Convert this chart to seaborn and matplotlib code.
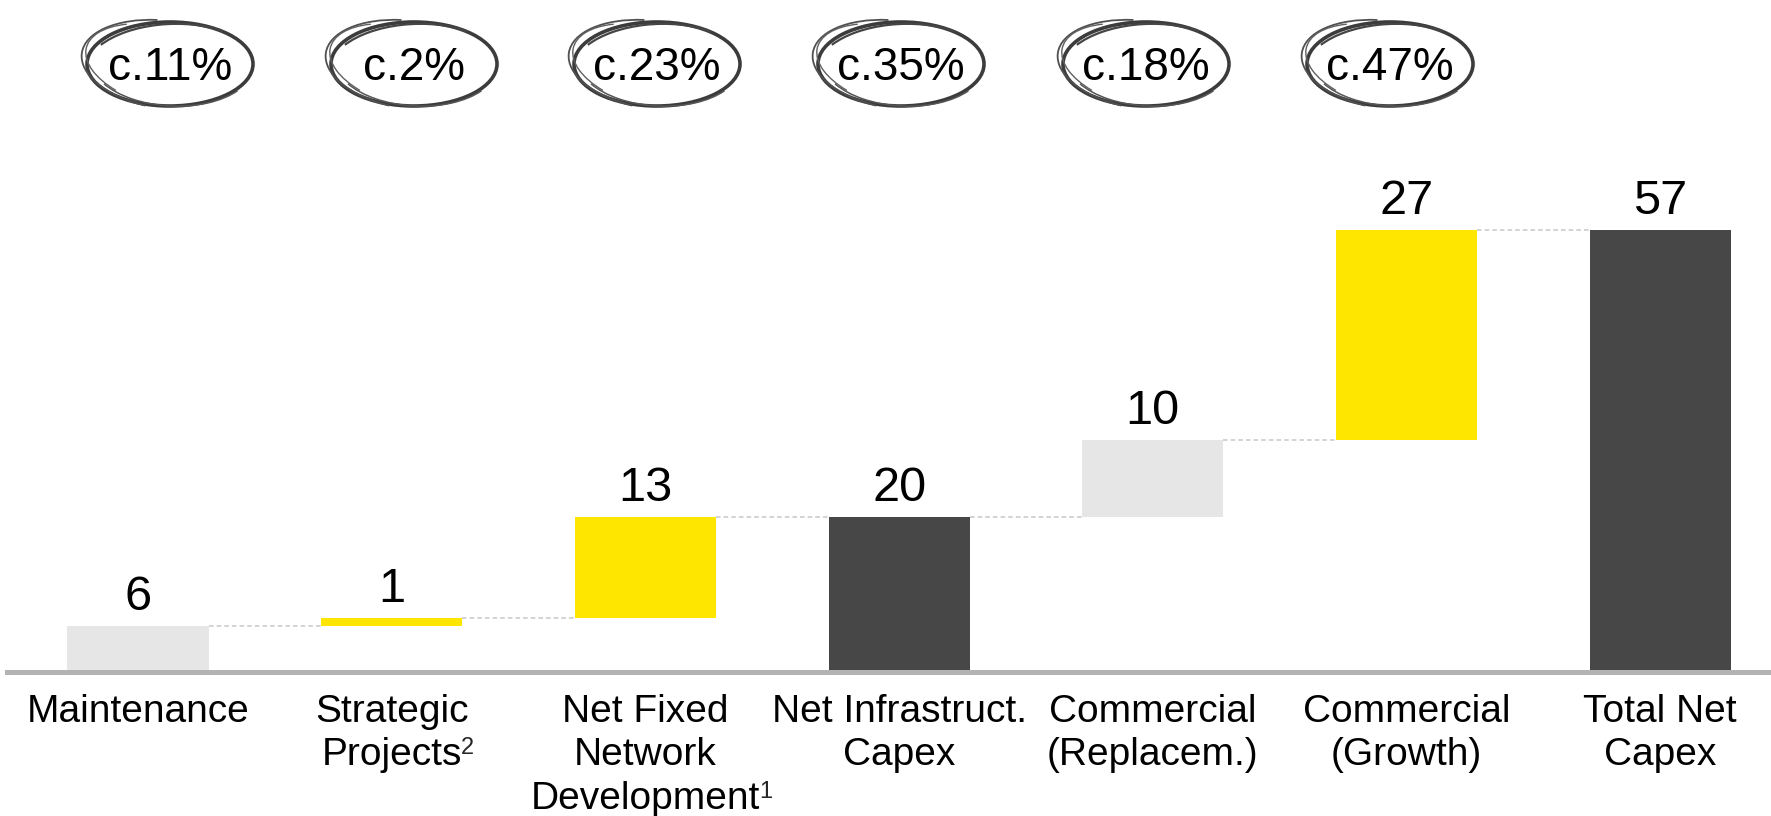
import numpy as np
import matplotlib
matplotlib.use("Agg")
import matplotlib.pyplot as plt
from matplotlib.patches import Ellipse, Arc
from matplotlib.font_manager import FontProperties
import seaborn as sns

# данные водопада (Net Capex)
categories = ["Maintenance", "Strategic\nProjects", "Net Fixed\nNetwork\nDevelopment",
              "Net Infrastruct.\nCapex", "Commercial\n(Replacem.)", "Commercial\n(Growth)",
              "Total Net\nCapex"]
footnotes = ["", "2", "1", "", "", "", ""]
values = [6, 1, 13, 20, 10, 27, 57]
is_total = [False, False, False, True, False, False, True]
bar_colors = ["#e6e6e6", "#ffe600", "#ffe600", "#474747", "#e6e6e6", "#ffe600", "#474747"]
share_labels = ["c.11%", "c.2%", "c.23%", "c.35%", "c.18%", "c.47%"]

# нижние границы столбцов
bottoms = []
running = 0
for v, tot in zip(values, is_total):
    if tot:
        bottoms.append(0)
        running = v
    else:
        bottoms.append(running)
        running += v
tops = [b + v for b, v in zip(bottoms, values)]

sns.set_style("white")
plt.rcParams["font.family"] = ["Liberation Sans", "DejaVu Sans"]

fig = plt.figure(figsize=(17.71, 8.16), dpi=100)
ax = fig.add_axes([0.004, 0.1759, 0.996, 0.665])

bar_w = 0.556
sns.barplot(x=categories, y=values, bottom=bottoms, width=bar_w, color="#e6e6e6",
            errorbar=None, ax=ax, zorder=2)
for patch, c in zip(ax.patches, bar_colors):
    patch.set_facecolor(c)
    patch.set_edgecolor("none")

# подписи значений
for i, (t, v) in enumerate(zip(tops, values)):
    ax.annotate(str(v), xy=(i, t), xytext=(0, 11.5), textcoords="offset points",
                ha="center", va="baseline", fontsize=35, color="black")

# соединительные пунктирные линии
for i in range(len(values) - 1):
    ax.plot([i + bar_w / 2, i + 1 - bar_w / 2], [tops[i], tops[i]], color="#c8c8c8",
            lw=1.1, dashes=(3, 2), zorder=1)

ax.set_xlim(-0.516, 6.437)
ax.set_ylim(0, 69.9)
ax.set_xlabel("")
ax.set_ylabel("")
ax.set_yticks([])
for s in ["left", "right", "top"]:
    ax.spines[s].set_visible(False)
ax.spines["bottom"].set_color("#b3b3b3")
ax.spines["bottom"].set_linewidth(3.6)
ax.spines["bottom"].set_zorder(3)
ax.tick_params(axis="x", length=0, pad=15.5, labelsize=28, labelcolor="black")
for lab in ax.get_xticklabels():
    lab.set_linespacing(1.26)

# сноски-индексы после последней строки подписи
fig.canvas.draw()
renderer = fig.canvas.get_renderer()
fp = FontProperties(family="Liberation Sans", size=28)
_, _, lp_d = renderer.get_text_width_height_descent("lp", fp, ismath=False)
for lab, note in zip(ax.get_xticklabels(), footnotes):
    if not note:
        continue
    widths = [renderer.get_text_width_height_descent(s, fp, ismath=False)[0]
              for s in lab.get_text().split("\n")]
    dx = -(max(widths) - widths[-1]) / 2 - 1
    ax.annotate(note, xy=(1, 0), xycoords=lab, xytext=(dx, lp_d + 11),
                textcoords="offset pixels", ha="left", va="baseline", fontsize=17)

# доли в "нарисованных от руки" овалах
ov = fig.add_axes([0, 0, 1, 1])
ov.set_xlim(0, 1771)
ov.set_ylim(816, 0)
ov.axis("off")
share_x = [170, 414, 657, 901, 1146, 1390]
for cx, lab in zip(share_x, share_labels):
    cy = 64
    ov.add_patch(Ellipse((cx, cy), 166, 84, fill=False, ec="#3c3c3c", lw=2.6))
    ov.add_patch(Arc((cx - 3, cy + 1), 172, 88, angle=8, theta1=110, theta2=250,
                     ec="#505050", lw=1.3))
    ov.add_patch(Arc((cx, cy + 2), 168, 84, angle=-3, theta1=200, theta2=330,
                     ec="#454545", lw=1.6))
    ov.add_patch(Arc((cx + 2, cy - 1), 162, 86, angle=3, theta1=20, theta2=160,
                     ec="#555555", lw=1.1))
    ov.add_patch(Arc((cx - 6, cy + 3), 160, 80, angle=14, theta1=140, theta2=215,
                     ec="#606060", lw=1.0))
    ov.text(cx, cy + 4, lab, ha="center", va="center", fontsize=33, color="black")

fig.savefig("out.png", dpi=100)
